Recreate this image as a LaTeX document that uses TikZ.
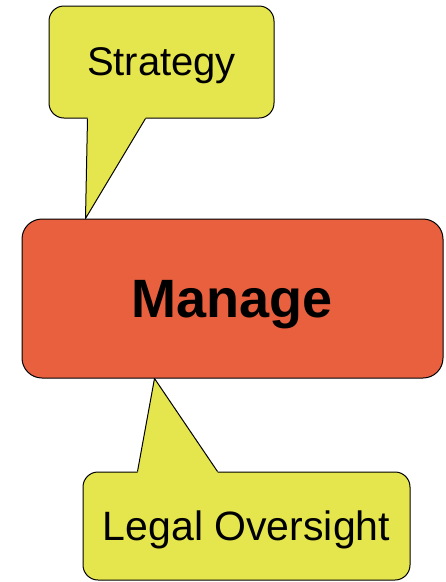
\documentclass[tikz,border=0pt]{standalone}
\usepackage{fontspec}
\setmainfont{Liberation Sans}
\usetikzlibrary{positioning,calc}

\definecolor{bubbleyellow}{RGB}{229,229,77}
\definecolor{managered}{RGB}{233,96,63}

\tikzset{
  bubble/.style={draw=black, fill=bubbleyellow, line width=1pt, rounded corners=15pt,
    inner sep=0pt, text depth=0pt, font=\fontsize{40}{48}\selectfont},
}

\begin{document}
\begin{tikzpicture}[x=1pt, y=-1pt, line join=round]

    \useasboundingbox (0, 0) rectangle (446, 582);

    % the centre box
    \node [draw=black, fill=managered, line width=1pt, rounded corners=20pt,
           minimum width=421pt, minimum height=159pt, inner sep=0pt, text depth=0pt,
           font=\bfseries\fontsize{54}{64}\selectfont] (manage) at (232.5, 298.5) {Manage};

    % callouts
    \node [bubble, minimum width=225pt, minimum height=112pt] (strategy) at (161.5, 62) {Strategy};
    \node [bubble, minimum width=327pt, minimum height=108pt,
           font=\fontsize{41}{49}\selectfont] (legal) at (246.5, 526) {Legal Oversight};

    % pointer of the upper callout
    \coordinate (s1) at ($(strategy.south west) + (39, 0)$);
    \coordinate (s2) at ($(strategy.south west) + (97, 0)$);
    \coordinate (stip) at ($(manage.north west) + (64, 0)$);
    \fill [bubbleyellow] ($(s1) + (0, -2)$) -- (s1) -- (stip) -- (s2) -- ($(s2) + (0, -2)$) -- cycle;
    \draw [line width=1pt] (s1) -- (stip) -- (s2);

    % pointer of the lower callout
    \coordinate (l1) at ($(legal.north west) + (55, 0)$);
    \coordinate (l2) at ($(legal.north west) + (135, 0)$);
    \coordinate (ltip) at ($(manage.south west) + (133, 0)$);
    \fill [bubbleyellow] ($(l1) + (0, 2)$) -- (l1) -- (ltip) -- (l2) -- ($(l2) + (0, 2)$) -- cycle;
    \draw [line width=1pt] (l1) -- (ltip) -- (l2);

\end{tikzpicture}
\end{document}
